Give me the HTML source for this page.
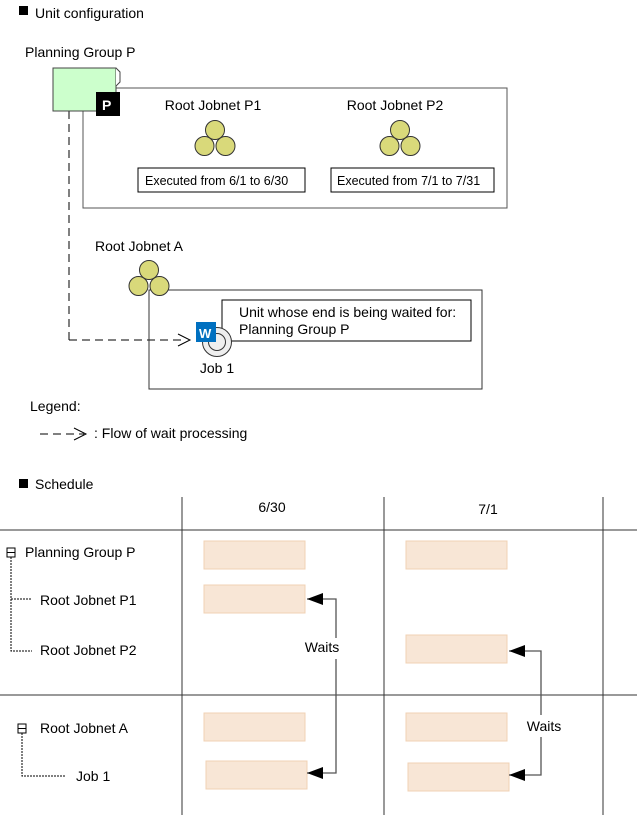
<!DOCTYPE html>
<html><head><meta charset="utf-8"><style>
html,body{margin:0;padding:0;background:#fff}
svg{display:block}
text{font-family:"Liberation Sans",sans-serif;font-size:14px;fill:#000}
.s{font-size:12.5px}
</style></head><body>
<svg width="640" height="821" viewBox="0 0 640 821" xmlns="http://www.w3.org/2000/svg">
<defs>
<g id="jn">
<circle cx="0" cy="-9" r="9.5" fill="#d9d97a" stroke="#333" stroke-width="1"/>
<circle cx="-10.5" cy="7" r="9.5" fill="#d9d97a" stroke="#333" stroke-width="1"/>
<circle cx="10.5" cy="7" r="9.5" fill="#d9d97a" stroke="#333" stroke-width="1"/>
</g>
</defs>
<rect x="19" y="6" width="9" height="9" fill="#000"/>
<text x="35" y="18">Unit configuration</text>
<text x="25" y="57">Planning Group P</text>
<rect x="83" y="88" width="424" height="120" fill="none" stroke="#555" stroke-width="1"/>
<line x1="69" y1="111" x2="69" y2="340" stroke="#000" stroke-dasharray="8,5"/>
<line x1="69" y1="340" x2="186" y2="340" stroke="#000" stroke-dasharray="8,5"/>
<path d="M178,334 L190,340 L178,346" fill="none" stroke="#000"/>
<rect x="53" y="68" width="63" height="43" fill="#ccffcc" stroke="#444"/>
<path d="M116,68 L120,72 L120,82 L116,86" fill="#fff" stroke="#444"/>
<rect x="96" y="92" width="24" height="24" fill="#000"/>
<text x="102" y="110" style="fill:#fff;font-weight:bold;font-size:14px">P</text>
<text x="213" y="110" text-anchor="middle">Root Jobnet P1</text>
<use href="#jn" x="215" y="139"/>
<rect x="138" y="168" width="167" height="24" fill="#fff" stroke="#000"/>
<text x="145" y="185" class="s">Executed from 6/1 to 6/30</text>
<text x="395" y="110" text-anchor="middle">Root Jobnet P2</text>
<use href="#jn" x="400" y="139"/>
<rect x="331" y="168" width="163" height="24" fill="#fff" stroke="#000"/>
<text x="337" y="185" class="s">Executed from 7/1 to 7/31</text>
<text x="95" y="251">Root Jobnet A</text>
<rect x="149" y="290" width="333" height="99" fill="none" stroke="#333"/>
<use href="#jn" x="149" y="279"/>
<rect x="222" y="300" width="249" height="41" fill="#fff" stroke="#000"/>
<text x="239" y="317">Unit whose end is being waited for:</text>
<text x="239" y="334">Planning Group P</text>
<circle cx="217" cy="342" r="14.5" fill="#eee" stroke="#333"/>
<circle cx="217" cy="342" r="8.5" fill="#eee" stroke="#333"/>
<rect x="196" y="322" width="20" height="20" fill="#0070c0"/>
<text x="199" y="338" style="fill:#fff;font-weight:bold;font-size:13px">W</text>
<text x="217" y="373" text-anchor="middle">Job 1</text>
<text x="30" y="411">Legend:</text>
<line x1="40" y1="434" x2="84" y2="434" stroke="#000" stroke-dasharray="8,5"/>
<path d="M74,428 L86,434 L74,440" fill="none" stroke="#000"/>
<text x="94" y="438">: Flow of wait processing</text>
<rect x="19" y="479" width="9" height="9" fill="#000"/>
<text x="35" y="489">Schedule</text>
<line x1="0" y1="530" x2="637" y2="530" stroke="#333"/>
<line x1="0" y1="695" x2="637" y2="695" stroke="#333"/>
<line x1="182" y1="497" x2="182" y2="815" stroke="#333"/>
<line x1="384" y1="497" x2="384" y2="815" stroke="#333"/>
<line x1="603" y1="497" x2="603" y2="815" stroke="#333"/>
<text x="272" y="512" text-anchor="middle">6/30</text>
<text x="488" y="514" text-anchor="middle">7/1</text>
<g fill="#f8e6d6" stroke="#f0d2b4">
<rect x="204" y="541" width="101" height="28"/>
<rect x="204" y="585" width="101" height="28"/>
<rect x="204" y="713" width="101" height="28"/>
<rect x="206" y="761" width="101" height="28"/>
<rect x="406" y="541" width="101" height="28"/>
<rect x="406" y="635" width="101" height="28"/>
<rect x="406" y="713" width="101" height="28"/>
<rect x="408" y="763" width="101" height="28"/>
</g>
<g stroke="#555" fill="none" stroke-width="1.3">
<path d="M307,599 L336,599 L336,638"/>
<path d="M336,659 L336,773 L307,773"/>
<path d="M509,651 L541,651 L541,715"/>
<path d="M541,737 L541,775 L509,775"/>
</g>
<path d="M307,599 L323,593 L323,605 Z"/>
<path d="M307,773 L323,767 L323,779 Z"/>
<path d="M509,651 L525,645 L525,657 Z"/>
<path d="M509,775 L525,769 L525,781 Z"/>
<text x="322" y="652" text-anchor="middle">Waits</text>
<text x="544" y="731" text-anchor="middle">Waits</text>
<g stroke="#000" stroke-dasharray="2,1" fill="none">
<path d="M11,557 L11,651 L32,651"/>
<path d="M11,599 L32,599"/>
<path d="M22,733 L22,776 L66,776"/>
</g>
<g fill="#fff" stroke="#000"><rect x="7" y="548" width="8" height="9"/><rect x="18" y="724" width="8" height="9"/></g>
<line x1="7" y1="552.5" x2="15" y2="552.5" stroke="#000"/>
<line x1="18" y1="728.5" x2="26" y2="728.5" stroke="#000"/>
<text x="25" y="557">Planning Group P</text>
<text x="40" y="605">Root Jobnet P1</text>
<text x="40" y="655">Root Jobnet P2</text>
<text x="40" y="733">Root Jobnet A</text>
<text x="76" y="781">Job 1</text>
</svg>
</body></html>
